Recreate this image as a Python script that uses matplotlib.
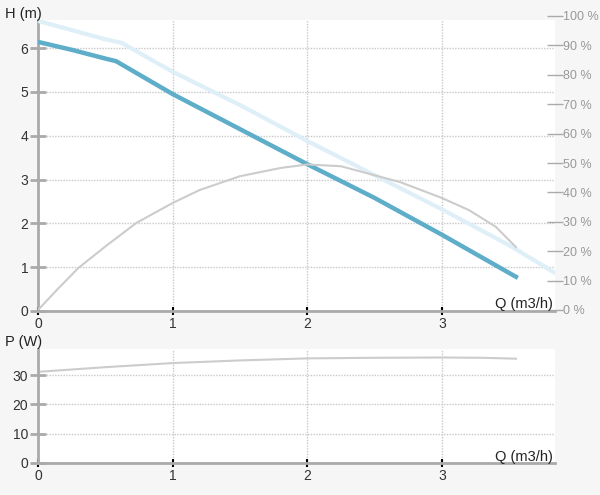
import matplotlib.pyplot as plt
import numpy as np

plt.rcParams['font.family'] = ['Liberation Sans', 'DejaVu Sans']

# pump curve, H (m)
q_h = [0, 0.25, 0.5, 0.58, 1.0, 1.5, 2.0, 2.5, 3.0, 3.55]
h_vals = [6.14, 5.96, 5.76, 5.70, 4.95, 4.15, 3.35, 2.58, 1.74, 0.78]

# max curve (light, dotted)
q_max = [0, 0.5, 0.62, 1.0, 1.5, 2.0, 2.5, 3.0, 3.5, 3.84]
h_max = [6.62, 6.20, 6.12, 5.46, 4.70, 3.88, 3.10, 2.32, 1.50, 0.87]

# efficiency, %
q_eff = [0, 0.15, 0.3, 0.5, 0.73, 1.0, 1.2, 1.5, 1.8, 2.0, 2.25, 2.69, 3.0, 3.2, 3.4, 3.55]
eff = [0, 7.3, 14.3, 21.6, 29.6, 36.4, 40.8, 45.5, 48.3, 49.5, 48.9, 43.5, 38.1, 34.0, 28.3, 21.4]

# power, W
q_p = [0, 0.5, 1.0, 1.5, 2.0, 2.5, 3.0, 3.3, 3.55]
p_vals = [31.1, 32.7, 34.1, 35.0, 35.7, 35.9, 36.0, 35.9, 35.6]

h_ticks = [0, 1, 2, 3, 4, 5, 6]
pct_ticks = list(range(0, 101, 10))
p_ticks = [0, 10, 20, 30]
q_ticks = [0, 1, 2, 3]

xmax = 3.84
grid_c = '#c8c8c8'
spine_c = '#aaaaaa'

fig = plt.figure(figsize=(6, 4.95), dpi=100, facecolor='#f6f6f6')


def style(ax, yticks, ylim):
    ax.set_facecolor('white')
    ax.set_xlim(0, xmax)
    ax.set_ylim(*ylim)
    for s in ['top', 'right']:
        ax.spines[s].set_visible(False)
    for s in ['left', 'bottom']:
        ax.spines[s].set_color(spine_c)
        ax.spines[s].set_linewidth(2)
    ax.set_yticks(yticks)
    ax.set_xticks(q_ticks)
    ax.tick_params(axis='y', direction='inout', length=12, width=2,
                   color=spine_c, labelsize=10, labelcolor='#333333', pad=1)
    ax.tick_params(axis='x', direction='inout', length=6, width=1.5,
                   color='black', labelsize=10, labelcolor='#333333', pad=1)
    ax.grid(True, color=grid_c, linestyle=(0, (1, 1)), linewidth=1)
    ax.set_axisbelow(True)


ax = fig.add_axes([38 / 600, 1 - 311 / 495, 517 / 600, 291 / 495])
style(ax, h_ticks, (0, 6.64))
ax.plot(q_max, h_max, color='#deeff8', lw=3, solid_capstyle='round', zorder=3)
ax.plot(q_h, h_vals, color='#5eadc9', lw=3.2, zorder=4)

# efficiency on a separate percent scale
ax_e = fig.add_axes([38 / 600, 1 - 310 / 495, 517 / 600, 294 / 495])
ax_e.set_xlim(0, xmax)
ax_e.set_ylim(0, 100)
ax_e.patch.set_visible(False)
for s in ax_e.spines.values():
    s.set_visible(False)
ax_e.set_xticks([])
ax_e.yaxis.tick_right()
ax_e.set_yticks(pct_ticks)
ax_e.set_yticklabels([f'{v} %' for v in pct_ticks])
ax_e.tick_params(axis='y', direction='inout', length=12, width=1, color='#aaaaaa',
                 labelsize=9, labelcolor='#999999', pad=0)
ax_e.plot(q_eff, eff, color='#cccccc', lw=1.5, zorder=2)

fig.text(5 / 600, 1 - 14 / 495, 'H (m)', fontsize=10.5, color='#222222', va='center')
fig.text(553 / 600, 1 - 304 / 495, 'Q (m3/h)', fontsize=10.5, color='#222222',
         va='center', ha='right')

ax2 = fig.add_axes([38 / 600, 1 - 463 / 495, 517 / 600, 114 / 495])
style(ax2, p_ticks, (0, 38.9))
ax2.plot(q_p, p_vals, color='#cccccc', lw=1.5)

fig.text(5 / 600, 1 - 342 / 495, 'P (W)', fontsize=10.5, color='#222222', va='center')
fig.text(553 / 600, 1 - 457 / 495, 'Q (m3/h)', fontsize=10.5, color='#222222',
         va='center', ha='right')

fig.savefig('out.png', dpi=100, facecolor=fig.get_facecolor())
